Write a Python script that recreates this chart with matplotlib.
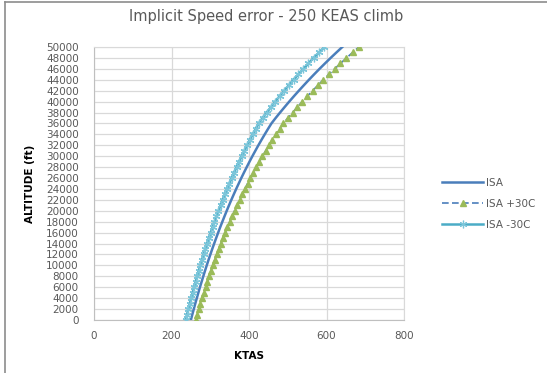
import matplotlib
matplotlib.use("Agg")
import matplotlib.pyplot as plt
from matplotlib.lines import Line2D

# Altitude (ft) and true airspeed (kt) for a 250 KEAS climb
altitude_ft = list(range(0, 51000, 1000))

tas_isa = [250.0, 253.7, 257.5, 261.3, 265.3, 269.3, 273.4, 277.7, 282.0, 286.4,
           290.9, 295.5, 300.3, 305.1, 310.1, 315.2, 320.4, 325.7, 331.2, 336.8,
           342.5, 348.4, 354.4, 360.6, 366.9, 373.5, 380.1, 387.0, 394.1, 401.3,
           408.7, 416.4, 424.2, 432.3, 440.6, 449.1, 457.9, 468.8, 480.2, 491.9,
           503.8, 516.1, 528.7, 541.6, 554.7, 568.2, 582.0, 596.2, 610.7, 625.6,
           640.8]

tas_isa_p30 = [262.7, 266.7, 270.7, 274.8, 279.1, 283.4, 287.9, 292.5, 297.1, 301.9,
               306.7, 311.7, 316.9, 322.1, 327.5, 333.0, 338.6, 344.4, 350.3, 356.4,
               362.6, 369.0, 375.5, 382.2, 389.1, 396.3, 403.5, 411.0, 418.7, 426.6,
               434.7, 443.1, 451.6, 460.5, 469.6, 478.9, 488.5, 500.2, 512.4, 524.8,
               537.5, 550.7, 564.1, 577.9, 591.9, 606.3, 621.0, 636.1, 651.6, 667.5,
               683.7]

tas_isa_m30 = [236.6, 240.0, 243.5, 247.0, 250.7, 254.4, 258.1, 262.1, 266.0, 270.0,
               274.2, 278.4, 282.7, 287.1, 291.7, 296.3, 301.1, 305.9, 310.9, 316.0,
               321.2, 326.5, 332.0, 337.6, 343.3, 349.2, 355.2, 361.4, 367.8, 374.3,
               381.0, 387.9, 394.9, 402.1, 409.6, 417.2, 425.0, 435.1, 445.7, 456.6,
               467.6, 479.0, 490.7, 502.7, 514.9, 527.4, 540.2, 553.4, 566.8, 580.7,
               594.8]

series_labels = ["ISA", "ISA +30C", "ISA -30C"]
x_ticks = [0, 200, 400, 600, 800]
y_ticks = list(range(0, 52000, 2000))

TEXT = "#595959"
GRID = "#D9D9D9"

plt.rcParams["font.family"] = ["DejaVu Sans"]

fig = plt.figure(figsize=(5.47, 3.73), dpi=100)
fig.patch.set_facecolor("white")
ax = fig.add_axes([94 / 547, 53 / 373, 310 / 547, 273 / 373])

ax.plot(tas_isa, altitude_ft, color="#4A7EBB", lw=1.8, label=series_labels[0], zorder=3)
ax.plot(tas_isa_p30, altitude_ft, color="#4A7EBB", lw=1.2, ls=(0, (4, 2)),
        marker="^", ms=5, mfc="#9BBB59", mec="#9BBB59", label=series_labels[1], zorder=4)
ax.plot(tas_isa_m30, altitude_ft, color="#4BACC6", lw=1.8,
        marker=(6, 2, 0), ms=5.5, mec="#7CC6DA", mew=0.9, label=series_labels[2], zorder=5)

ax.set_xlim(0, 800)
ax.set_ylim(0, 50000)
ax.set_xticks(x_ticks)
ax.set_yticks(y_ticks)
ax.grid(True, color=GRID, lw=0.9)
ax.set_axisbelow(True)
for side in ["top", "right"]:
    ax.spines[side].set_color(GRID)
for side in ["left", "bottom"]:
    ax.spines[side].set_color("#BFBFBF")
ax.tick_params(length=0, labelsize=7.5, labelcolor=TEXT)
ax.tick_params(axis="y", pad=11)
ax.tick_params(axis="x", pad=8)

ax.set_xlabel("KTAS", fontsize=7.5, fontweight="bold", color="black", labelpad=7)
ax.set_ylabel("ALTITUDE (ft)", fontsize=7.5, fontweight="bold", color="black", labelpad=8)

fig.text(266 / 547, 1 - 16 / 373, "Implicit Speed error - 250 KEAS climb",
         ha="center", va="center", fontsize=10.5, color=TEXT)

handles, labels = ax.get_legend_handles_labels()
leg = fig.legend(handles, labels, loc="center left",
                 bbox_to_anchor=(433 / 547, 1 - 204 / 373), frameon=False,
                 fontsize=7.5, handlelength=3.9, handletextpad=0.3,
                 labelspacing=1.05, markerscale=1.0)
for t in leg.get_texts():
    t.set_color(TEXT)

# chart frame edges
fig.add_artist(Line2D([5 / 547, 5 / 547], [0, 1 - 2 / 373], color="#8C8C8C", lw=1.2))
fig.add_artist(Line2D([5 / 547, 1], [1 - 2 / 373, 1 - 2 / 373], color="#8C8C8C", lw=1.2))

fig.savefig("out.png", dpi=100, facecolor="white")
